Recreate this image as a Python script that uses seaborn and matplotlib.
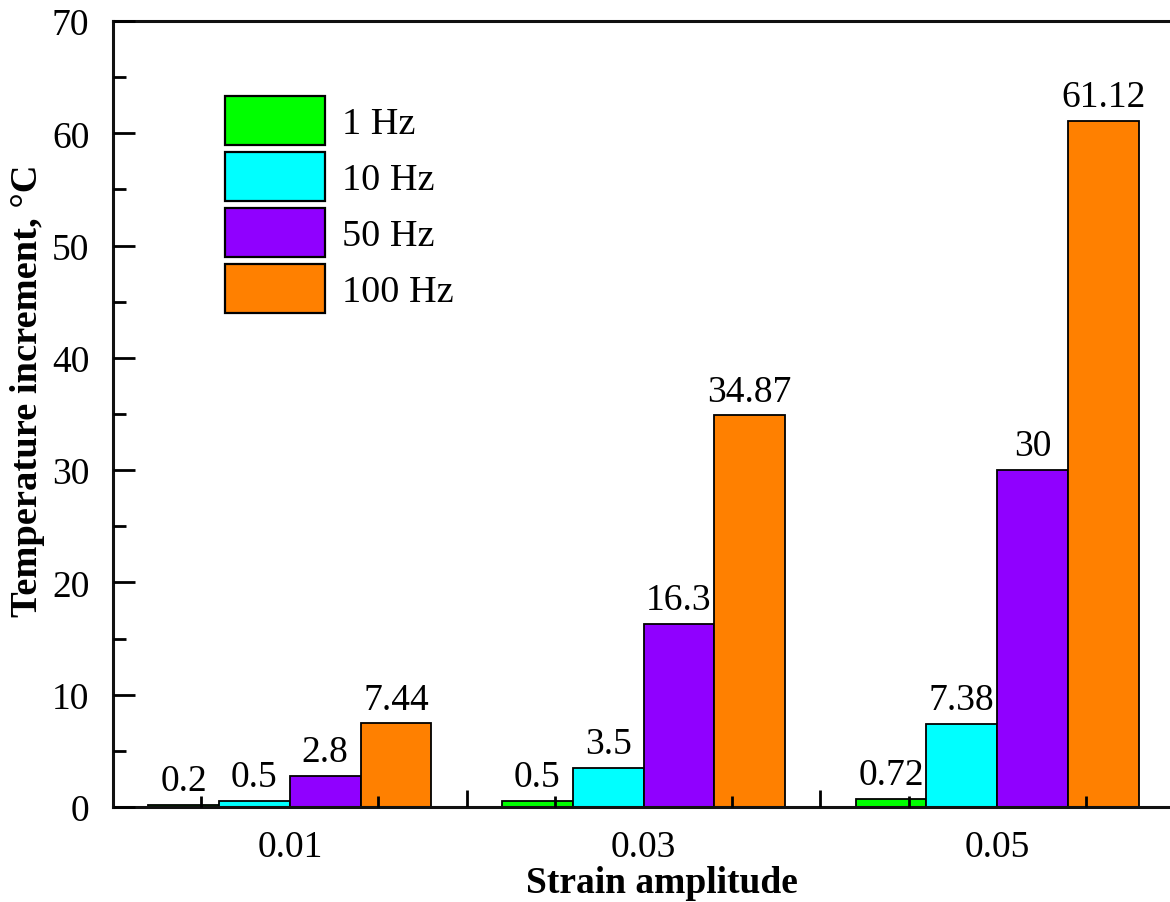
import matplotlib
matplotlib.use("Agg")
import matplotlib.pyplot as plt
import seaborn as sns
import pandas as pd
from matplotlib.ticker import MultipleLocator, FixedLocator
from matplotlib.patches import Patch

# ---- data ----
strain_amplitudes = ["0.01", "0.03", "0.05"]
frequencies = ["1 Hz", "10 Hz", "50 Hz", "100 Hz"]
temp_1hz = [0.2, 0.5, 0.72]
temp_10hz = [0.5, 3.5, 7.38]
temp_50hz = [2.8, 16.3, 30]
temp_100hz = [7.44, 34.87, 61.12]
y_ticks = [0, 10, 20, 30, 40, 50, 60, 70]
colors = ["#00FF00", "#00FFFF", "#9000FF", "#FF8000"]

series = [temp_1hz, temp_10hz, temp_50hz, temp_100hz]
rows = []
for f, vals in zip(frequencies, series):
    for s, v in zip(strain_amplitudes, vals):
        rows.append({"strain": s, "freq": f, "temp": v})
df = pd.DataFrame(rows)

sns.set_theme(style="ticks")
plt.rcParams["font.family"] = ["Liberation Serif", "DejaVu Serif"]
plt.rcParams.update({"text.color": "black", "axes.labelcolor": "black",
                     "xtick.color": "black", "ytick.color": "black"})

W, H = 1170, 903
fig = plt.figure(figsize=(W / 100, H / 100), dpi=100)
ax = fig.add_axes([113 / W, (H - 808) / H, 1061 / W, 786 / H])

sns.barplot(data=df, x="strain", y="temp", hue="freq", order=strain_amplitudes,
            hue_order=frequencies, palette=colors, saturation=1, width=0.8,
            edgecolor="black", linewidth=1.3, errorbar=None, ax=ax, legend=False)

for cont, vals in zip(ax.containers, series):
    ax.bar_label(cont, labels=[f"{v:g}" for v in vals], padding=5, fontsize=27,
                 color="black")

ax.set_xlim(-0.5, 2.5)
ax.set_ylim(0, 70)
ax.set_yticks(y_ticks)
ax.yaxis.set_minor_locator(MultipleLocator(5))
ax.set_axisbelow(False)

# x: labels at group centres, long ticks at group boundaries, short ticks at quarters
ax.set_xticks([0, 1, 2])
ax.set_xticklabels(strain_amplitudes)
ax.tick_params(axis="x", which="major", length=0, pad=16, labelsize=27)
ax.xaxis.set_minor_locator(FixedLocator([-0.25, 0.25, 0.75, 1.25, 1.75, 2.25]))
ax.tick_params(axis="x", which="minor", direction="in", length=8, width=2)
ax.vlines([0.5, 1.5], 0, 17 / 786, transform=ax.get_xaxis_transform(),
          color="black", lw=2, zorder=5)

ax.tick_params(axis="y", which="major", direction="in", length=16, width=2, pad=17,
               labelsize=27)
ax.tick_params(axis="y", which="minor", direction="in", length=9, width=2)

ax.spines["right"].set_visible(False)
for sp in ["left", "bottom", "top"]:
    ax.spines[sp].set_linewidth(2.2)
    ax.spines[sp].set_color("#111111")

ax.set_ylabel("Temperature increment, °C", fontsize=27.7, fontweight="bold")
ax.yaxis.set_label_coords((45 - 113) / 1061, (808 - 391) / 786)
ax.set_xlabel("Strain amplitude", fontsize=27, fontweight="bold")
ax.xaxis.set_label_coords((662 - 113) / 1061, (808 - 866) / 786)

handles = [Patch(facecolor=c, edgecolor="black", linewidth=1.6) for c in colors]
fig.legend(handles, frequencies, loc="upper left", bbox_to_anchor=(225 / W, (H - 97) / H),
           frameon=False, fontsize=27.5, handlelength=2.62, handleheight=1.6,
           labelspacing=0.18, handletextpad=0.45, borderpad=0, borderaxespad=0)

fig.savefig("out.png", dpi=100)
